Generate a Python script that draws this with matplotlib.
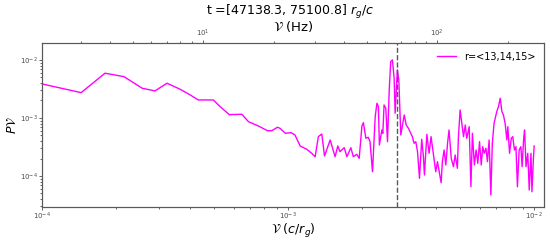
"""
Power spectrum P*nu of the light curve for r=<13,14,15>, with a second axis in Hz.
"""

import numpy as np
import matplotlib.pyplot as plt

# log10 of frequency (c/r_g) and log10 of P*nu
log_freq = [-4.000, -3.841, -3.744, -3.667, -3.593, -3.541, -3.492, -3.439, -3.398, -3.365,
            -3.304, -3.276, -3.239, -3.188, -3.161, -3.121, -3.084, -3.066, -3.043, -3.033,
            -3.011, -2.988, -2.972, -2.951, -2.924, -2.904, -2.890, -2.877, -2.863, -2.852,
            -2.829, -2.809, -2.798, -2.789, -2.772, -2.761, -2.745, -2.735, -2.721, -2.711,
            -2.700, -2.694, -2.684, -2.674, -2.667, -2.657, -2.646, -2.639, -2.633, -2.629,
            -2.619, -2.615, -2.610, -2.603, -2.596, -2.589, -2.583, -2.576, -2.569, -2.565,
            -2.556, -2.550, -2.542, -2.528, -2.520, -2.511, -2.495, -2.488, -2.481, -2.474,
            -2.466, -2.457, -2.450, -2.446, -2.436, -2.427, -2.419, -2.409, -2.400, -2.393,
            -2.386, -2.378, -2.373, -2.366, -2.359, -2.352, -2.346, -2.337, -2.328, -2.321,
            -2.312, -2.308, -2.301, -2.294, -2.287, -2.280, -2.274, -2.264, -2.257, -2.251,
            -2.243, -2.236, -2.229, -2.222, -2.215, -2.209, -2.203, -2.196, -2.190, -2.183,
            -2.176, -2.170, -2.163, -2.152, -2.145, -2.138, -2.131, -2.125, -2.118, -2.111,
            -2.107, -2.100, -2.093, -2.087, -2.080, -2.074, -2.068, -2.061, -2.054, -2.049,
            -2.043, -2.039, -2.033, -2.026, -2.020, -2.013, -2.009, -2.003, -2.000]
log_pnu = [-2.414, -2.564, -2.229, -2.288, -2.488, -2.534, -2.402, -2.505, -2.603, -2.690,
           -2.690, -2.805, -2.943, -2.936, -3.064, -3.138, -3.219, -3.219, -3.160, -3.178,
           -3.264, -3.253, -3.293, -3.483, -3.540, -3.609, -3.667, -3.322, -3.276, -3.655,
           -3.379, -3.667, -3.483, -3.581, -3.512, -3.667, -3.512, -3.667, -3.626, -3.695,
           -3.138, -3.081, -3.350, -3.333, -3.409, -3.926, -2.978, -2.747, -2.805, -3.466,
           -3.207, -3.264, -2.776, -2.833, -3.409, -2.517, -2.029, -2.000, -2.316, -2.919,
           -2.172, -2.345, -3.293, -2.948, -3.121, -3.178, -3.322, -3.436, -3.409, -3.581,
           -4.040, -3.367, -3.667, -3.983, -3.281, -3.609, -3.322, -3.638, -3.926, -3.753,
           -3.926, -4.116, -3.753, -3.552, -3.810, -3.436, -3.207, -3.695, -3.840, -3.638,
           -3.867, -3.350, -2.862, -3.091, -3.322, -3.121, -3.350, -3.150, -4.184, -3.264,
           -3.810, -3.552, -3.781, -3.409, -3.810, -3.495, -3.609, -3.522, -3.753, -3.379,
           -4.328, -3.436, -3.091, -2.891, -2.805, -2.660, -2.891, -2.948, -3.091, -3.379,
           -3.150, -3.609, -3.350, -3.322, -3.552, -3.495, -4.184, -3.552, -3.495, -3.840,
           -3.379, -3.207, -3.840, -3.609, -4.241, -3.609, -4.271, -3.695, -3.483]

freq = 10 ** np.array(log_freq)
pnu = 10 ** np.array(log_pnu)

label = 'r=<13,14,15>'
title = r't =[47138.3, 75100.8] $r_g/c$'
qpo_freq = 2.77e-3          # dashed marker
hz_lim = (2.05, 286.0)      # top axis range in Hz

fig = plt.figure(figsize=(5.5, 2.41), dpi=100)
ax = fig.add_axes([0.0764, 0.141, 0.9127, 0.681])

ax.plot(freq, pnu, color='magenta', lw=1, label=label)
ax.axvline(qpo_freq, color='0.35', ls='--', lw=1)
ax.set_xscale('log')
ax.set_yscale('log')
ax.set_xlim(1e-4, 10 ** -1.96)
ax.set_ylim(10 ** -4.534, 10 ** -1.707)
ax.set_xlabel(r'$\mathcal{V}$ $(c/r_g)$', fontsize=9, labelpad=0)
ax.set_ylabel(r'$P\mathcal{V}$', fontsize=9, labelpad=1)
ax.legend(loc='upper right', frameon=False, fontsize=7)

ax2 = ax.twiny()
ax2.set_xscale('log')
ax2.set_xlim(*hz_lim)
ax2.set_xlabel(r'$\mathcal{V}$ (Hz)', fontsize=9.5, labelpad=-2.5)
fig.text(0.528, 1 - 11.5 / 241, title, fontsize=9, ha='center', va='center')

for a in (ax, ax2):
    a.tick_params(which='both', labelsize=5, colors='0.3', length=2.5, width=0.6, pad=0.3)
    a.tick_params(which='minor', length=1.5)
    for s in a.spines.values():
        s.set_color('0.35')

fig.savefig('out.png', dpi=100)
